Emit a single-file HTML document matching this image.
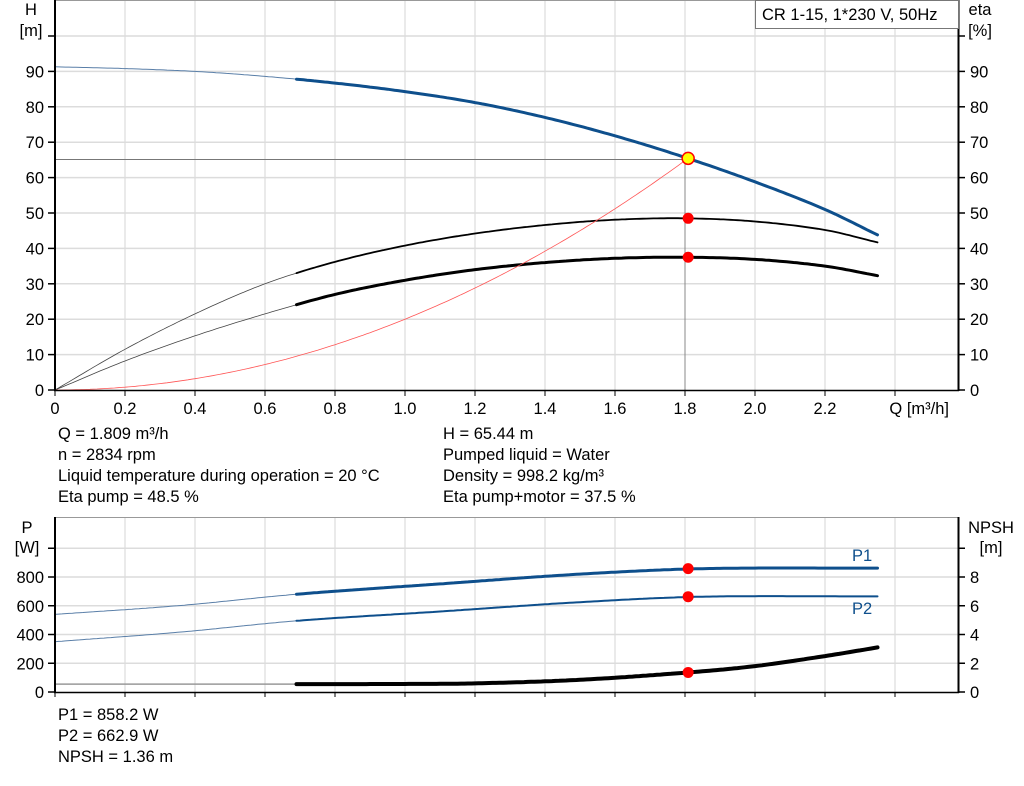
<!DOCTYPE html>
<html><head><meta charset="utf-8"><style>
body{margin:0;background:#fff;width:1024px;height:781px;overflow:hidden}
svg text{font-family:"Liberation Sans",Arial,sans-serif;font-size:16.5px;fill:#000}
</style></head><body>
<svg id="s" width="1024" height="781" xmlns="http://www.w3.org/2000/svg"></svg>
<script>
const s=document.getElementById('s');let h='';
const X=q=>55+350*q;
const YT=v=>390-3.54*v;
const YB=p=>692-0.14375*p;
const YN=n=>692-14.375*n;
for(let i=1;i<=12;i++){let x=X(i*0.2);h+=`<line x1="${x}" y1="0" x2="${x}" y2="390" stroke="#d4d4d4"/>`;h+=`<line x1="${x}" y1="517" x2="${x}" y2="692" stroke="#d4d4d4"/>`;}
for(let v=10;v<=100;v+=10){let y=YT(v);h+=`<line x1="55" y1="${y}" x2="959" y2="${y}" stroke="#dcdcdc" stroke-width="1.5"/>`;}
for(let p=200;p<=1000;p+=200){let y=YB(p);h+=`<line x1="55" y1="${y}" x2="959" y2="${y}" stroke="#dcdcdc" stroke-width="1.5"/>`;}
h+=`<line x1="55" y1="0.5" x2="959" y2="0.5" stroke="#999"/><line x1="55" y1="517.5" x2="959" y2="517.5" stroke="#999"/>`;
h+=`<line x1="55" y1="${YT(65.1)}" x2="${X(1.8)}" y2="${YT(65.1)}" stroke="#777"/>`;
h+=`<line x1="${X(1.8)}" y1="${YT(65.1)}" x2="${X(1.8)}" y2="390" stroke="#888"/>`;
function interp(pts,q){for(let i=0;i<pts.length-1;i++){if(q<=pts[i+1][0]){let a=pts[i],b=pts[i+1];
 let p0=pts[Math.max(i-1,0)],p3=pts[Math.min(i+2,pts.length-1)];let t=(q-a[0])/(b[0]-a[0]);
 let m1=(b[1]-p0[1])/(b[0]-p0[0]),m2=(p3[1]-a[1])/(p3[0]-a[0]);let d=b[0]-a[0];
 let t2=t*t,t3=t2*t;return (2*t3-3*t2+1)*a[1]+(t3-2*t2+t)*d*m1+(-2*t3+3*t2)*b[1]+(t3-t2)*d*m2;}}return pts[pts.length-1][1];}
function path(pts,Y,q0,q1){let d='';for(let q=q0;q<=q1+1e-9;q+=0.01){d+=(d?'L':'M')+X(q).toFixed(1)+','+Y(interp(pts,q)).toFixed(1);}return d;}
function curve(pts,Y,c1,w1,c2,w2){h+=`<path d="${path(pts,Y,0,0.69)}" fill="none" stroke="${c1}" stroke-width="${w1}"/>`;h+=`<path d="${path(pts,Y,0.69,2.35)}" fill="none" stroke="${c2}" stroke-width="${w2}" stroke-linecap="round"/>`;}
const H=[[0,91.3],[0.2,90.8],[0.4,90],[0.6,88.6],[0.8,86.7],[1.0,84.3],[1.2,81.2],[1.4,77],[1.6,71.8],[1.8,65.7],[2.0,58.8],[2.2,51],[2.35,43.8]];
const E1=[[0,0],[0.2,11.5],[0.4,21.5],[0.6,30],[0.8,36.2],[1.0,40.8],[1.2,44.2],[1.4,46.6],[1.6,48.1],[1.8,48.5],[2.0,47.6],[2.2,45.2],[2.35,41.7]];
const E2=[[0,0],[0.2,8.2],[0.4,15.3],[0.6,21.5],[0.8,27],[1.0,31],[1.2,34],[1.4,36],[1.6,37.2],[1.8,37.5],[2.0,36.9],[2.2,35],[2.35,32.3]];
curve(E1,YT,'#444',0.8,'#000',1.8);
curve(E2,YT,'#444',0.8,'#000',3);
let d='';for(let q=0;q<=1.809;q+=0.01){d+=(d?'L':'M')+X(q).toFixed(1)+','+YT(20*q*q).toFixed(1);}
h+=`<path d="${d}" fill="none" stroke="#f55" stroke-width="0.8"/>`;
curve(H,YT,'#5a7fa8',1,'#0e4f8c',3);
const P1=[[0,540],[0.35,600],[0.69,680],[1.1,752],[1.5,820],[1.85,858],[2.35,862]];
const P2=[[0,350],[0.35,415],[0.69,495],[1.1,560],[1.5,625],[1.85,663],[2.35,665]];
const N=[[0,0.55],[0.69,0.55],[1.0,0.56],[1.2,0.6],[1.5,0.85],[1.809,1.36],[2.0,1.8],[2.2,2.5],[2.35,3.1]];
curve(P1,YB,'#5a7fa8',1,'#0e4f8c',3);
curve(P2,YB,'#5a7fa8',1,'#0e4f8c',2);
curve(N,YN,'#999',1.5,'#000',4);
const xm=X(1.809);
[[YT(48.5)],[YT(37.5)],[YB(858)],[YB(663)],[YN(1.36)]].forEach(a=>h+=`<circle cx="${xm}" cy="${a[0]}" r="5.5" fill="#f00"/>`);
h+=`<circle cx="${xm}" cy="${YT(65.44)}" r="6" fill="#ff0" stroke="#f00" stroke-width="1.5"/>`;
h+=`<line x1="55" y1="0" x2="55" y2="391" stroke="#000" stroke-width="2"/><line x1="54" y1="390.5" x2="959" y2="390.5" stroke="#000" stroke-width="1.5"/><line x1="958.5" y1="0" x2="958.5" y2="391" stroke="#000" stroke-width="2"/>`;
h+=`<line x1="55" y1="517" x2="55" y2="693" stroke="#000" stroke-width="2"/><line x1="54" y1="692.5" x2="959" y2="692.5" stroke="#000" stroke-width="1.5"/><line x1="958.5" y1="517" x2="958.5" y2="693" stroke="#000" stroke-width="2"/>`;
for(let v=0;v<=100;v+=10){let y=YT(v);h+=`<line x1="48" y1="${y}" x2="55" y2="${y}" stroke="#000" stroke-width="1.5"/><line x1="958" y1="${y}" x2="965" y2="${y}" stroke="#000" stroke-width="1.5"/>`;
 if(v<100){h+=`<text x="44" y="${y+6}" text-anchor="end">${v}</text><text x="970" y="${y+6}">${v}</text>`;}}
for(let i=0;i<=12;i++){let x=X(i*0.2);h+=`<line x1="${x}" y1="390" x2="${x}" y2="396" stroke="#000"/>`;if(i<12)h+=`<text x="${x}" y="414" text-anchor="middle">${i==0?'0':(i*0.2).toFixed(1)}</text>`;}
for(let p=0;p<=1000;p+=200){let y=YB(p);h+=`<line x1="48" y1="${y}" x2="55" y2="${y}" stroke="#000" stroke-width="1.5"/><line x1="958" y1="${y}" x2="965" y2="${y}" stroke="#000" stroke-width="1.5"/>`;
 if(p<1000){h+=`<text x="44" y="${y+6}" text-anchor="end">${p}</text><text x="970" y="${y+6}">${p/100}</text>`;}}
for(let i=0;i<=12;i++){let x=X(i*0.2);h+=`<line x1="${x}" y1="692" x2="${x}" y2="697" stroke="#000"/>`;}
h+=`<text x="31" y="15" text-anchor="middle">H</text><text x="31" y="36" text-anchor="middle">[m]</text>`;
h+=`<text x="980" y="15" text-anchor="middle">eta</text><text x="980" y="36" text-anchor="middle">[%]</text>`;
h+=`<text x="949" y="414" text-anchor="end">Q [m³/h]</text>`;
h+=`<text x="27" y="533" text-anchor="middle">P</text><text x="27" y="553" text-anchor="middle">[W]</text>`;
h+=`<text x="991" y="533" text-anchor="middle">NPSH</text><text x="991" y="553" text-anchor="middle">[m]</text>`;
h+=`<text x="852" y="561" style="fill:#0e4f8c">P1</text><text x="852" y="614" style="fill:#0e4f8c">P2</text>`;
h+=`<rect x="755.5" y="0.5" width="203" height="28" fill="#fff" stroke="#777"/><text x="762" y="20">CR 1-15, 1*230 V, 50Hz</text>`;
const L=[["Q = 1.809 m³/h","H = 65.44 m"],["n = 2834 rpm","Pumped liquid = Water"],["Liquid temperature during operation = 20 °C","Density = 998.2 kg/m³"],["Eta pump = 48.5 %","Eta pump+motor = 37.5 %"]];
L.forEach((r,i)=>{h+=`<text x="58" y="${439+i*21}">${r[0]}</text><text x="443" y="${439+i*21}">${r[1]}</text>`;});
["P1 = 858.2 W","P2 = 662.9 W","NPSH = 1.36 m"].forEach((t,i)=>h+=`<text x="58" y="${720+i*21}">${t}</text>`);
s.innerHTML=h;
</script>
</body></html>
